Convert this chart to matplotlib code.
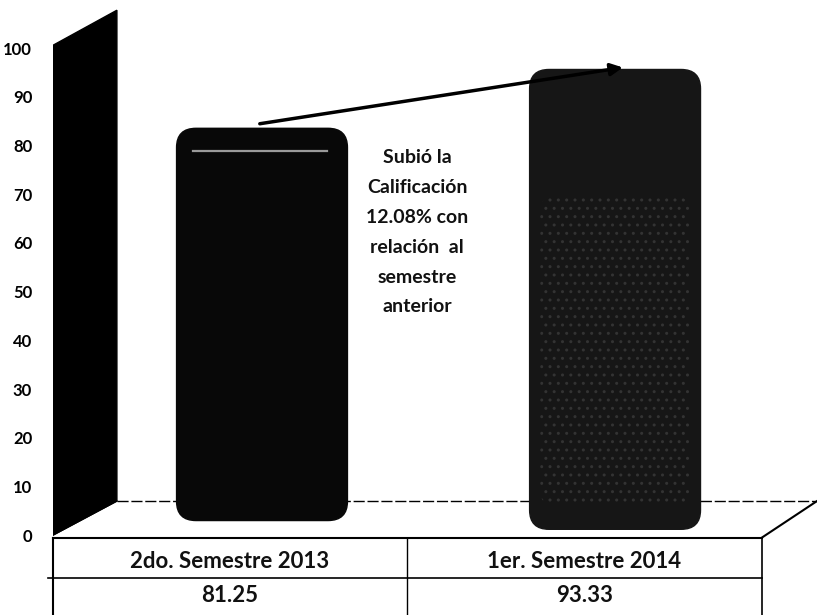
import matplotlib
matplotlib.use("Agg")
import matplotlib.pyplot as plt
from matplotlib.patches import FancyBboxPatch, Polygon

# data
categories = ["2do. Semestre 2013", "1er. Semestre 2014"]
scores = [81.25, 93.33]
value_labels = ["81.25", "93.33"]
yticks = [0, 10, 20, 30, 40, 50, 60, 70, 80, 90, 100]
note = "Subió la\nCalificación\n12.08% con\nrelación  al\nsemestre\nanterior"

plt.rcParams["font.family"] = ["Lato", "DejaVu Sans"]

fig = plt.figure(figsize=(8.17, 6.15), dpi=100)
ax = fig.add_axes([53 / 817, 0, 764 / 817, 1])

x_left, x_right = -0.592, 1.572
ax.set_xlim(x_left, x_right)
ax.set_ylim(-16.4, 109.9)

depth = 7          # vertical shift of the back plane
x_back = -0.411    # back edge of the side wall
x_front_end = 1.416
lift = 2.3         # bars stand a bit into the depth

# side wall (black)
wall = Polygon([(x_left, 0), (x_left, 100.6), (x_back, 107.8), (x_back, depth)],
               closed=True, facecolor="black", edgecolor="black", lw=1)
ax.add_patch(wall)
# floor outline
ax.plot([x_left, x_back], [0, depth], color="black", lw=1)
ax.plot([x_back, x_right], [depth, depth], color="black", lw=1, ls=(0, (8, 2)))
ax.plot([x_front_end, x_right], [-0.5, depth], color="black", lw=1.5, clip_on=False)

# bars (rounded cylinders)
bar_w = 0.484
bottoms = [3.0, 1.2]
faces = ["#080808", "#161616"]
for i, v in enumerate(scores):
    b = bottoms[i]
    box = FancyBboxPatch((i - bar_w / 2, b), bar_w, v + lift - b,
                         boxstyle="round,pad=0,rounding_size=0.055",
                         mutation_aspect=72,
                         facecolor=faces[i], edgecolor=faces[i], lw=1, zorder=3)
    ax.add_patch(box)
    if i == 1:
        speck = FancyBboxPatch((i - bar_w / 2 + 0.03, b + 5), bar_w - 0.06, v - 30,
                               boxstyle="round,pad=0,rounding_size=0.04",
                               mutation_aspect=72, facecolor="none",
                               edgecolor="#333333", hatch="..", lw=0, zorder=3.1)
        ax.add_patch(speck)
# light rim at the top of the first bar
ax.plot([-0.195, 0.185], [scores[0] + lift - 4.6] * 2, color="#9a9a9a", lw=1.6,
        zorder=3.2)

# trend arrow
ax.annotate("", xy=(1.03, scores[1] + 2.8), xytext=(-0.014, scores[0] + 3.15),
            arrowprops=dict(arrowstyle="-|>", color="black", lw=2.5,
                            mutation_scale=18), zorder=4)

# note text
ax.text(0.44, 62.2, note, ha="center", va="center", fontsize=14,
        fontweight="bold", linespacing=1.92, color="#111111")

# data table under the chart
row1, row2 = -0.5, -8.8
mid = 0.411
lc = "black"
ax.plot([x_left, x_front_end], [row1, row1], color=lc, lw=1.5, clip_on=False)
ax.plot([x_left - 0.015, x_front_end], [row2, row2], color=lc, lw=1.2, clip_on=False)
ax.plot([x_left, x_left], [row1, -16.4], color=lc, lw=1.5, clip_on=False)
ax.plot([mid, mid], [row1, -16.4], color=lc, lw=1.0, clip_on=False)
ax.plot([x_front_end, x_front_end], [row1, -16.4], color=lc, lw=1.2, clip_on=False)
cells = [(x_left + mid) / 2, (mid + x_front_end) / 2]
for cx, c, lab in zip(cells, categories, value_labels):
    ax.text(cx, -5.5, c, ha="center", va="center", fontsize=16,
            fontweight="bold", color="#111111")
    ax.text(cx, -12.3, lab, ha="center", va="center", fontsize=16,
            fontweight="bold", color="#111111")

# y axis labels
ax.set_yticks(yticks)
ax.set_yticklabels([str(t) for t in yticks], fontsize=12, fontweight="bold")
ax.tick_params(axis="y", length=0, pad=15)
ax.set_xticks([])
for s in ax.spines.values():
    s.set_visible(False)
ax.patch.set_alpha(0)

fig.savefig("out.png", dpi=100)
